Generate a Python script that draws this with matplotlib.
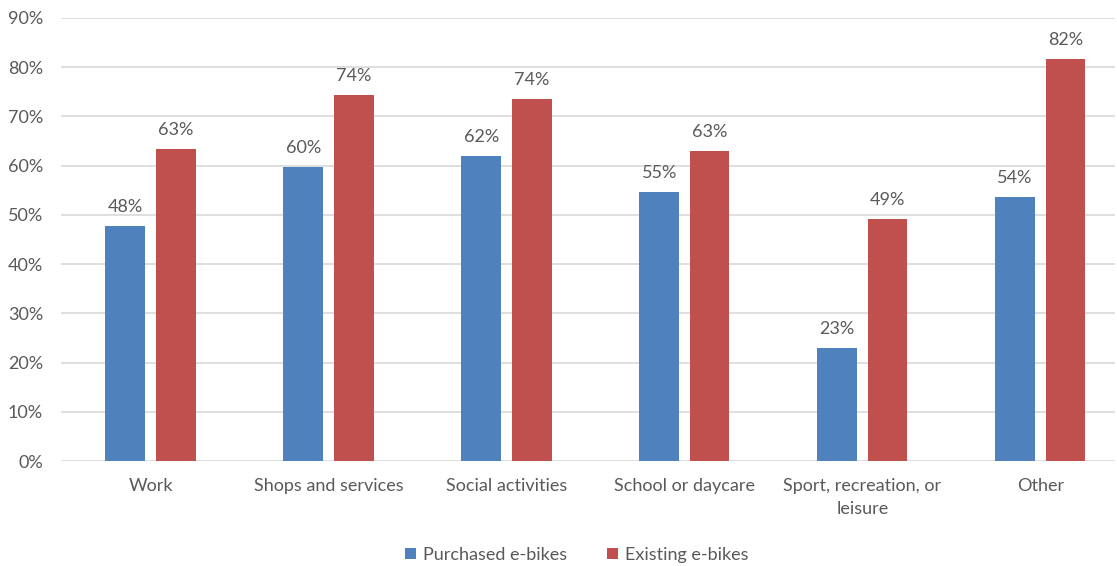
#!/usr/bin/env python3
"""Trip purposes done by e-bike: purchased vs existing e-bikes."""
import matplotlib
matplotlib.use('Agg')
import matplotlib.pyplot as plt
import numpy as np
from matplotlib.ticker import FuncFormatter

categories = ['Work', 'Shops and services', 'Social activities',
              'School or daycare', 'Sport, recreation, or\nleisure', 'Other']
purchased = [47.8, 59.7, 62.0, 54.6, 23.0, 53.7]
existing = [63.3, 74.4, 73.6, 63.0, 49.1, 81.7]
series_names = ['Purchased e-bikes', 'Existing e-bikes']

BLUE = '#4F81BD'
RED = '#C0504D'
TEXT = '#595959'
GRID = '#D9D9D9'

plt.rcParams['font.family'] = ['Lato', 'DejaVu Sans']

fig = plt.figure(figsize=(11.17, 5.66), dpi=100)
ax = fig.add_axes([61 / 1117, 105 / 566, (1115 - 61) / 1117, (461 - 18) / 566])

x = np.arange(len(categories))
w = 0.222
off = 0.142
b1 = ax.bar(x - off, purchased, w, color=BLUE, label=series_names[0], zorder=2)
b2 = ax.bar(x + off, existing, w, color=RED, label=series_names[1], zorder=2)

for bars, vals in ((b1, purchased), (b2, existing)):
    for rect, v in zip(bars, vals):
        ax.annotate(f'{v:.0f}%', (rect.get_x() + rect.get_width() / 2, v),
                    xytext=(0, 8), textcoords='offset points',
                    ha='center', va='bottom', fontsize=13, color=TEXT)

ax.set_xlim(-0.503, 5.419)
ax.set_ylim(0, 90)
ax.set_yticks(np.arange(0, 91, 10))
ax.yaxis.set_major_formatter(FuncFormatter(lambda v, _: f'{v:.0f}%'))
ax.grid(axis='y', color=GRID, linewidth=1.2, zorder=0)
ax.set_xticks(x)
ax.set_xticklabels(categories, linespacing=1.6)
ax.tick_params(axis='both', length=0, labelsize=13, labelcolor=TEXT)
ax.tick_params(axis='y', pad=13)
ax.tick_params(axis='x', pad=12)
for s in ax.spines.values():
    s.set_visible(False)

fig.legend(handles=[b1, b2], loc='center', bbox_to_anchor=(577 / 1117, 1 - 555 / 566),
           ncol=2, frameon=False, fontsize=13, labelcolor=TEXT,
           handlelength=0.6, handleheight=0.6, handletextpad=0.4, columnspacing=2.2)

fig.savefig('out.png', dpi=100)
